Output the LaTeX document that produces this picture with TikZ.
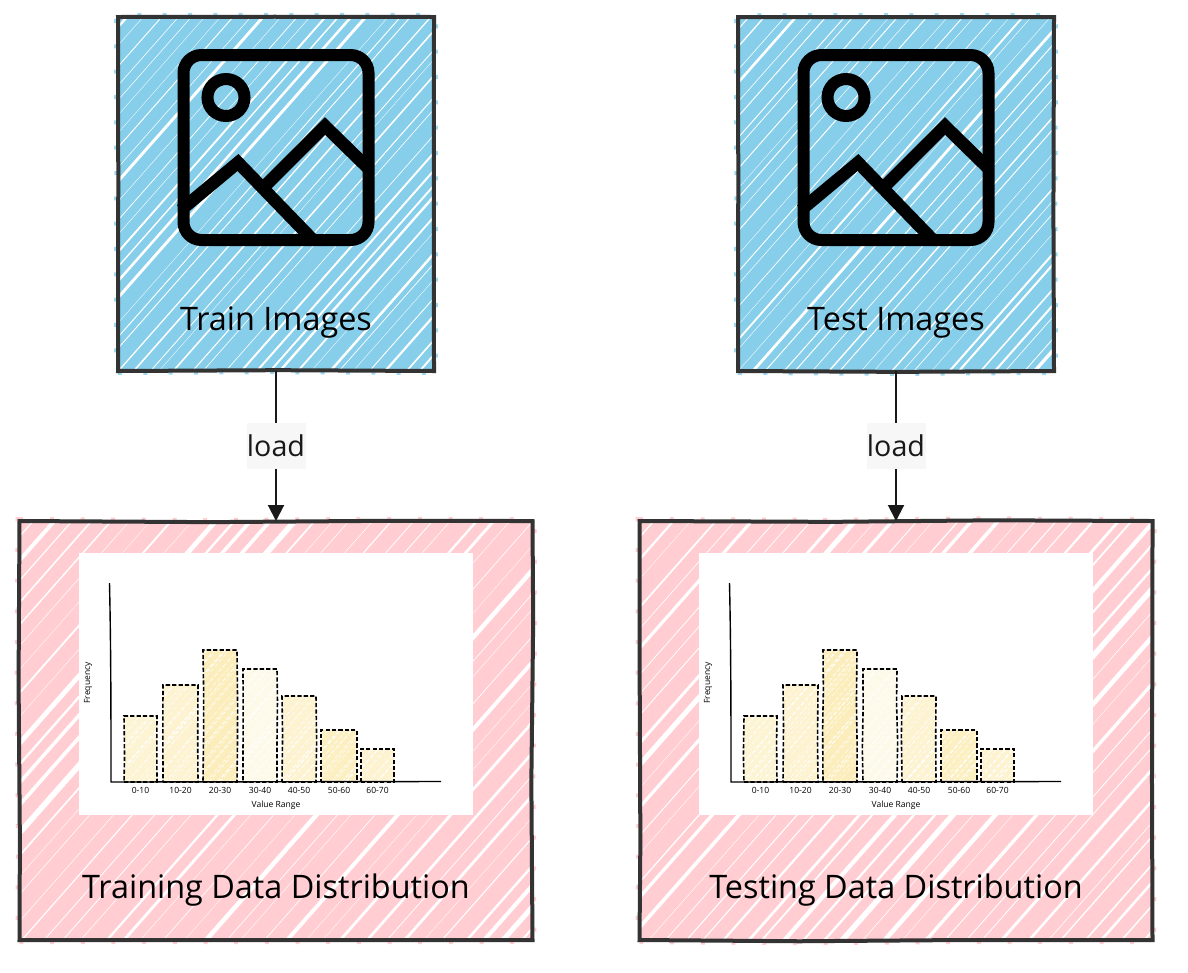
\documentclass[tikz,border=0pt]{standalone}
\usepackage{fontspec}
\setmainfont{Open Sans}
\usetikzlibrary{positioning,arrows.meta,decorations.pathmorphing}
\definecolor{imgblue}{HTML}{87CEEB}
\definecolor{distpink}{HTML}{FFCDD2}
\definecolor{edgegrey}{HTML}{333333}
\definecolor{barcream}{HTML}{FCEDB8}
\def\px{0.75pt}
\tikzset{
    hatch/.style n args={4}{path picture={
        \foreach \k in {#1,#2,...,#3} {
            \pgfmathsetmacro{\lw}{0.3+rnd*rnd*#4}
            \pgfmathsetmacro{\jit}{rnd*9}
            \draw[white, line width=\lw*\px]
                (path picture bounding box.south west) ++(\k+\jit,0) -- ++(600,-680);
        }
    }},
    sketchbox/.style={draw=edgegrey, line width=4*\px, inner sep=0, outer sep=0,
        decorate, decoration={random steps, segment length=120pt, amplitude=1pt}},
    imgbox/.style={sketchbox, fill=imgblue, minimum width=316*\px, minimum height=354*\px,
        hatch={-380}{-365}{320}{3.6},
        preaction={draw=imgblue!80, line width=8*\px, dash pattern=on 3pt off 16pt}},
    distbox/.style={sketchbox, fill=distpink, minimum width=513*\px, minimum height=419*\px,
        hatch={-460}{-440}{520}{5.5},
        preaction={draw=distpink, line width=8*\px, dash pattern=on 3pt off 20pt}},
    plotbox/.style={fill=white, inner sep=0, minimum width=394*\px, minimum height=262*\px},
    barbox/.style={draw=black, dash pattern=on 3.2pt off 1.6pt, line width=1.6*\px, inner sep=0, outer sep=0,
        anchor=south west, hatch={-170}{-165}{36}{1.2},
        decorate, decoration={random steps, segment length=30pt, amplitude=.5pt}},
    iconline/.style={draw=black, line width=12*\px, inner sep=0, outer sep=0},
    title/.style={font=\fontsize{24.3}{29}\selectfont, inner sep=0},
    small/.style={font=\fontsize{6.4}{8}\selectfont, inner sep=0},
    loadlabel/.style={fill=black!3, font=\fontsize{21.5}{26}\selectfont, inner sep=0,
        minimum width=59*\px, minimum height=46*\px},
}
\begin{document}
\begin{tikzpicture}[x=\px, y=-\px]
\useasboundingbox (0,0) rectangle (1188,972);
\pgfmathsetseed{4242}
\foreach \dx/\sname/\imgtext/\disttext in {0/train/Train Images/Training Data Distribution, 620/test/Test Images/Testing Data Distribution} {
\begin{scope}[shift={(\dx,0)}]
    \node (\sname-img) [imgbox] at (276,194) {};
    \node (\sname-dist) [distbox] at (276,730.5) {};
    % picture icon
    \node (\sname-icon) [iconline, rounded corners=18*\px, minimum width=185*\px, minimum height=185*\px] at (276,147.5) {};
    \node (\sname-sun) [iconline, circle, minimum size=37*\px] at (226,97.5) {};
    \draw[line width=12.5*\px, black] (181,210) -- (238,162.5) -- (313,240);
    \draw[line width=12.5*\px, black] (264,187) -- (325,126) -- (370,170);
    \node (\sname-name) [title, above=32*\px of \sname-img.south] {\imgtext};
    \node (\sname-title) [title, above=33*\px of \sname-dist.south] {\disttext};
    \draw[-{Triangle[length=16*\px, width=16*\px]}, line width=2*\px, black!90]
        (\sname-img.south) -- node (\sname-load) [loadlabel, midway] {load} (\sname-dist.north);
    % histogram
    \node (\sname-plot) [plotbox] at (276,684) {};
    \coordinate (\sname-top) at (109.5,583);
    \coordinate (\sname-zero) at (111,782);
    \coordinate (\sname-end) at (441,781.5);
    \foreach \i/\xa/\bw/\bh/\tint/\range in {1/124/33/66/60/0-10, 2/163/35/97/65/10-20, 3/203/34/132/95/20-30, 4/243/34/113/30/30-40, 5/282/34/86/65/40-50, 6/321/36/52/85/50-60, 7/361/33/33/65/60-70} {
        \node (\sname-bar\i) [barbox, fill=barcream!\tint!white, minimum width=\bw*\px, minimum height=\bh*\px] at (\xa,782) {};
        \node (\sname-tick\i) [small, below=5*\px of \sname-bar\i.south] {\range};
    }
    \draw[line width=1.4*\px, black] (\sname-top) .. controls (111,650) and (111,720) .. (\sname-zero) -- (\sname-end);
    \node (\sname-xlabel) [small] at (276,805) {Value Range};
    \node (\sname-ylabel) [small, rotate=90] at (88,683) {Frequency};
\end{scope}
}
\end{tikzpicture}
\end{document}
